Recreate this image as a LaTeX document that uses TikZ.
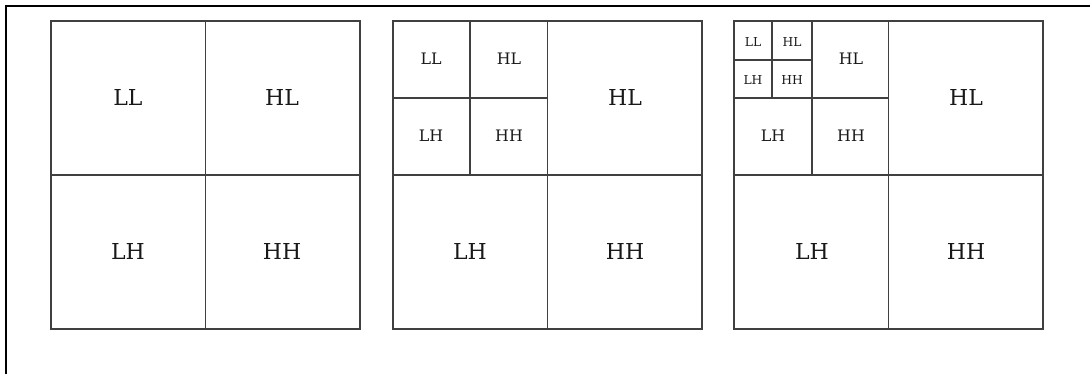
\documentclass[tikz,border=0pt]{standalone}
\usepackage{fontspec}
\setmainfont{DejaVu Serif}
\begin{document}
\begin{tikzpicture}[x=0.02cm,y=-0.02cm,
  every node/.style={inner sep=0pt,text=black!90},
  big/.style={font=\fontsize{12.5}{12.5}\selectfont},
  mid/.style={font=\fontsize{9}{9}\selectfont},
  sml/.style={font=\fontsize{7}{7}\selectfont},
  grid/.style={draw=black!75,line width=1pt}]
\useasboundingbox (0,0) rectangle (1090,374);
\draw[line width=1.2pt] (6,374) -- (6,6) -- (1090,6);
% first split, same in all three
\foreach \x in {51,393,734} {
  \draw[grid] (\x,21) rectangle ++(309,308);
  \draw[grid] (\x+154.5,21) -- ++(0,308) (\x,175) -- ++(309,0);
}
% second and third split
\draw[grid] (470,21) -- (470,175) (393,98) -- (548,98);
\draw[grid] (812,21) -- (812,175) (734,98) -- (889,98);
\draw[grid] (772,21) -- (772,98) (734,60) -- (812,60);
% one level
\node[big] (ll1) at (128,98) {LL};
\node[big] (hl1) at (282,98) {HL};
\node[big] (lh1) at (128,251) {LH};
\node[big] (hh1) at (282,251) {HH};
% two levels
\node[mid] (ll2) at (431,59) {LL};
\node[mid] (hl2) at (509,59) {HL};
\node[mid] (lh2) at (431,136) {LH};
\node[mid] (hh2) at (509,136) {HH};
\node[big] (hla) at (625,98) {HL};
\node[big] (lha) at (470,251) {LH};
\node[big] (hha) at (625,251) {HH};
% three levels
\node[sml] (ll3) at (753,42) {LL};
\node[sml] (hl3) at (792,42) {HL};
\node[sml] (lh3) at (753,80) {LH};
\node[sml] (hh3) at (792,80) {HH};
\node[mid] (hlb) at (851,59) {HL};
\node[mid] (lhb) at (773,136) {LH};
\node[mid] (hhb) at (851,136) {HH};
\node[big] (hlc) at (966,98) {HL};
\node[big] (lhc) at (812,251) {LH};
\node[big] (hhc) at (966,251) {HH};
\end{tikzpicture}
\end{document}
